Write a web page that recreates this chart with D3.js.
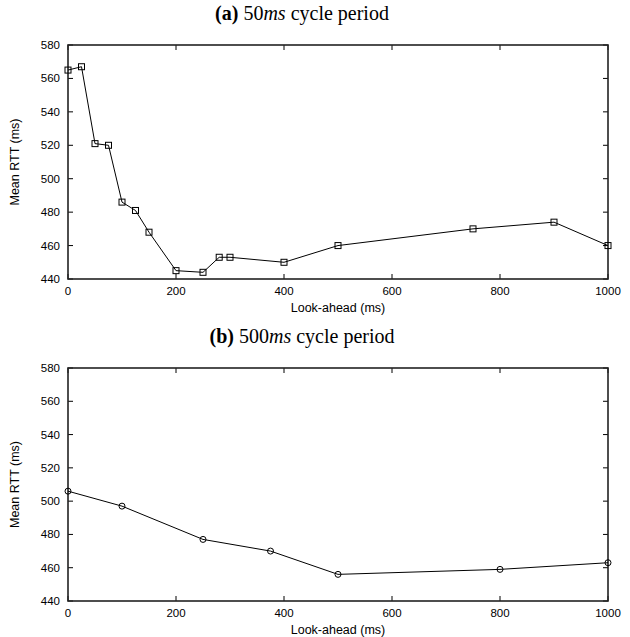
<!DOCTYPE html>
<html>
<head>
<meta charset="utf-8">
<script src="https://cdn.jsdelivr.net/npm/d3@7"></script>
<style>
  body { margin: 0; background: #fff; }
</style>
</head>
<body>
<script>
// data
const lookAheadA = [0, 25, 50, 75, 100, 125, 150, 200, 250, 280, 300, 400, 500, 750, 900, 1000];
const rttA = [565, 567, 521, 520, 486, 481, 468, 445, 444, 453, 453, 450, 460, 470, 474, 460];
const lookAheadB = [0, 100, 250, 375, 500, 800, 1000];
const rttB = [506, 497, 477, 470, 456, 459, 463];
const xTicks = [0, 200, 400, 600, 800, 1000];
const yTicks = [440, 460, 480, 500, 520, 540, 560, 580];

const width = 630, height = 637;
const left = 68, right = 608;
const tickSize = 5;

const svg = d3.select("body").append("svg")
  .attr("width", width).attr("height", height);

const x = d3.scaleLinear().domain([0, 1000]).range([left, right]);

function panel(top, bottom, label, cycle, xs, ys, marker) {
  const y = d3.scaleLinear().domain([440, 580]).range([bottom, top]);
  const g = svg.append("g");

  //title
  const t = g.append("text")
    .attr("x", 302).attr("y", top - 25)
    .attr("text-anchor", "middle")
    .style("font-family", "Liberation Serif")
    .style("font-size", "20px");
  t.append("tspan").style("font-weight", "bold").text("(" + label + ")");
  t.append("tspan").text(" " + cycle);
  t.append("tspan").style("font-style", "italic").text("ms");
  t.append("tspan").text(" cycle period");

  //ticks, inward on all four sides
  xTicks.forEach(v => {
    g.append("line").attr("x1", x(v)).attr("x2", x(v))
      .attr("y1", bottom).attr("y2", bottom - tickSize).attr("stroke", "black");
    g.append("line").attr("x1", x(v)).attr("x2", x(v))
      .attr("y1", top).attr("y2", top + tickSize).attr("stroke", "black");
    g.append("text").text(v)
      .attr("x", x(v)).attr("y", bottom + 16)
      .attr("text-anchor", "middle")
      .style("font-family", "Liberation Sans").style("font-size", "11.5px");
  });
  yTicks.forEach(v => {
    g.append("line").attr("x1", left).attr("x2", left + tickSize)
      .attr("y1", y(v)).attr("y2", y(v)).attr("stroke", "black");
    g.append("line").attr("x1", right).attr("x2", right - tickSize)
      .attr("y1", y(v)).attr("y2", y(v)).attr("stroke", "black");
    g.append("text").text(v)
      .attr("x", left - 8).attr("y", y(v) + 4)
      .attr("text-anchor", "end")
      .style("font-family", "Liberation Sans").style("font-size", "11.5px");
  });

  //frame
  g.append("rect")
    .attr("x", left).attr("y", top)
    .attr("width", right - left).attr("height", bottom - top)
    .attr("fill", "none").attr("stroke", "#222").attr("stroke-width", 1.6);

  //axis labels
  g.append("text").text("Look-ahead (ms)")
    .attr("x", (left + right) / 2).attr("y", bottom + 33)
    .attr("text-anchor", "middle")
    .style("font-family", "Liberation Sans").style("font-size", "12.5px");
  g.append("text").text("Mean RTT (ms)")
    .attr("transform", `translate(19,${(top + bottom) / 2}) rotate(-90)`)
    .attr("text-anchor", "middle")
    .style("font-family", "Liberation Sans").style("font-size", "12.5px");

  //line and markers
  const pts = xs.map((v, i) => [x(v), y(ys[i])]);
  g.append("path")
    .attr("d", d3.line()(pts))
    .attr("fill", "none").attr("stroke", "black").attr("stroke-width", 1);
  if (marker === "square") {
    g.selectAll(".m").data(pts).enter().append("rect")
      .attr("x", d => d[0] - 3).attr("y", d => d[1] - 3)
      .attr("width", 6).attr("height", 6)
      .attr("fill", "none").attr("stroke", "black").attr("stroke-width", 1);
  } else {
    g.selectAll(".m").data(pts).enter().append("circle")
      .attr("cx", d => d[0]).attr("cy", d => d[1]).attr("r", 3)
      .attr("fill", "none").attr("stroke", "black").attr("stroke-width", 1);
  }
}

panel(45, 279, "a", "50", lookAheadA, rttA, "square");
panel(368, 601, "b", "500", lookAheadB, rttB, "circle");
</script>
</body>
</html>
